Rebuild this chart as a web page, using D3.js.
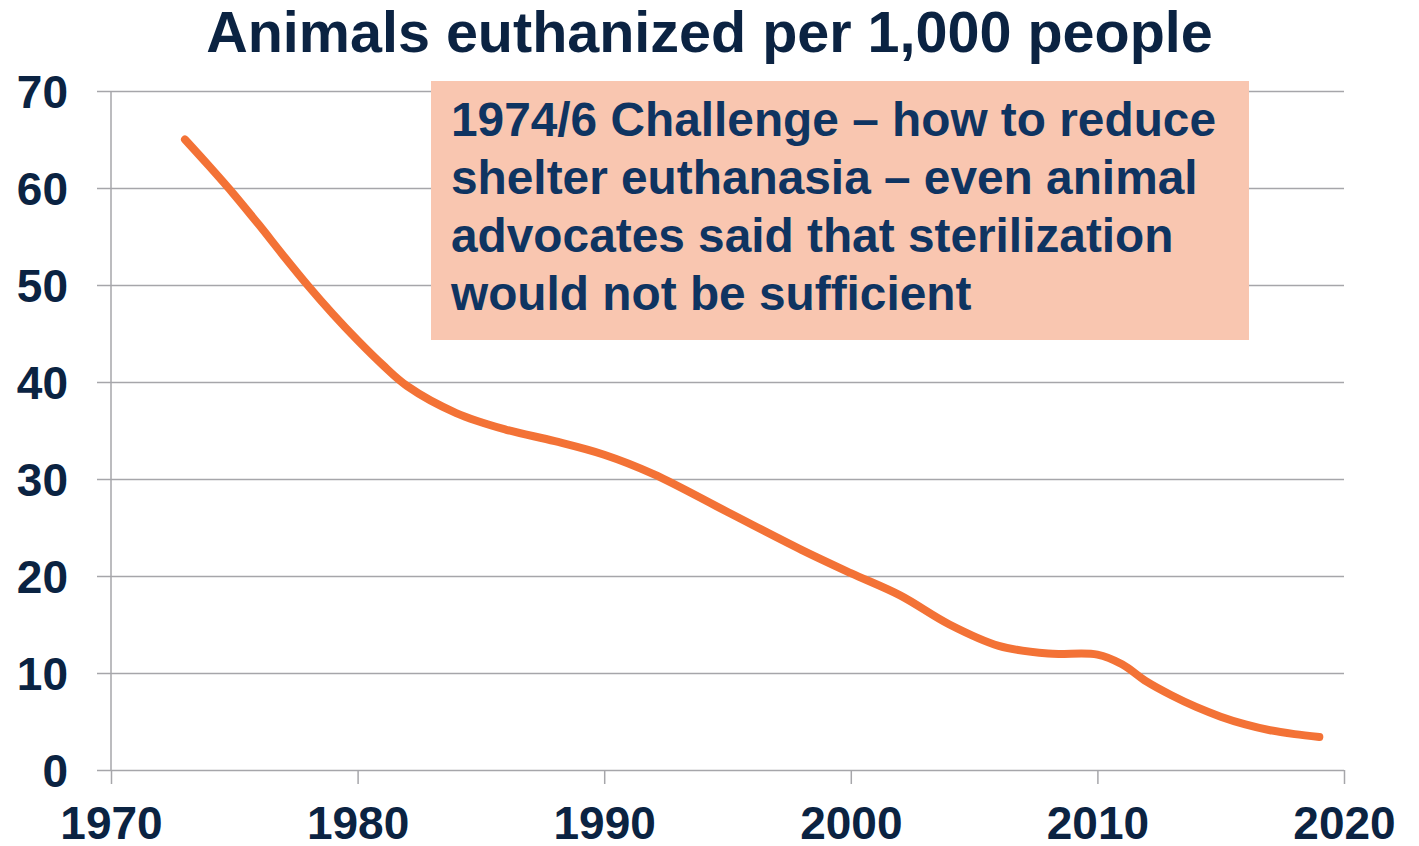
<!DOCTYPE html>
<html><head><meta charset="utf-8">
<script src="https://cdn.jsdelivr.net/npm/d3@7"></script>
<style>html,body{margin:0;padding:0;background:#fff;}svg{display:block;}</style>
</head><body>
<svg id="chart" width="1419" height="846"></svg>
<script>
const years  = [1973,1974,1975,1976,1977,1978,1979,1980,1981,1982,1984,1986,1988,1990,1992,1995,1998,2000,2002,2004,2006,2008,2010,2011,2012,2013,2014,2015,2016,2017,2018,2019];
const values = [65.0,62.2,59.3,56.2,53.0,49.9,47.0,44.3,41.8,39.6,36.8,35.1,33.9,32.5,30.5,26.6,22.7,20.3,18.0,15.0,12.8,12.0,11.9,10.9,9.1,7.7,6.5,5.5,4.7,4.1,3.7,3.4];
const xTicks = [1970,1980,1990,2000,2010,2020];
const yTicks = [0,10,20,30,40,50,60,70];
const titleText = "Animals euthanized per 1,000 people";
const noteLines = ["1974/6 Challenge \u2013 how to reduce","shelter euthanasia \u2013 even animal","advocates said that sterilization","would not be sufficient"];

const svg = d3.select("#chart");
const m = {left:111, right:1344, top:91, bottom:770};
const x = d3.scaleLinear().domain([1970,2020]).range([m.left, m.right]);
const y = d3.scaleLinear().domain([0,70]).range([m.bottom, m.top]);
const font = "'Liberation Sans', Arial, sans-serif";
const grid = "#a6a6aa";

// gridlines + y axis
const ya = svg.append("g").attr("transform",`translate(${m.left},0)`)
  .call(d3.axisLeft(y).tickValues(yTicks).tickSize(14).tickPadding(29).tickFormat(d3.format("d")));
ya.select(".domain").remove();
ya.selectAll(".tick line").attr("stroke",grid).attr("stroke-width",1.5).attr("x2",m.right-m.left).attr("x1",-14);
ya.selectAll(".tick text").attr("fill","#0b2342").attr("font-family",font).attr("font-weight","bold").attr("font-size",46).attr("dy","0.35em");

// x axis
const xa = svg.append("g").attr("transform",`translate(0,${m.bottom})`)
  .call(d3.axisBottom(x).tickValues(xTicks).tickSize(14).tickPadding(0).tickFormat(d3.format("d")));
xa.select(".domain").remove();
xa.selectAll(".tick line").attr("stroke",grid).attr("stroke-width",1.5);
xa.selectAll(".tick text").attr("fill","#0b2342").attr("font-family",font).attr("font-weight","bold").attr("font-size",46).attr("dy",null).attr("y",69);
// vertical axis line
svg.append("line").attr("x1",x(1970)).attr("x2",x(1970)).attr("y1",y(70)).attr("y2",y(0)).attr("stroke",grid).attr("stroke-width",1.5);

// annotation box
const bx = 431, by = 81, bw = 818, bh = 259;
svg.append("rect").attr("x",bx).attr("y",by).attr("width",bw).attr("height",bh).attr("fill","#f9c6b0");
const t = svg.append("text").attr("font-family",font).attr("font-weight","bold").attr("font-size",47.8).attr("fill","#0f3461");
noteLines.forEach((l,i)=>t.append("tspan").attr("x",451).attr("y",136+i*58).text(l));

// line
const data = years.map((d,i)=>({year:d, v:values[i]}));
svg.append("path").datum(data)
  .attr("fill","none").attr("stroke","#f37236").attr("stroke-width",8).attr("stroke-linecap","round").attr("stroke-linejoin","round")
  .attr("d", d3.line().x(d=>x(d.year)).y(d=>y(d.v)).curve(d3.curveCatmullRom.alpha(0.5)));

// title
svg.append("text").attr("x",709.5).attr("y",52).attr("text-anchor","middle")
  .attr("font-family",font).attr("font-weight","bold").attr("font-size",57.5).attr("fill","#0b2342").text(titleText);
</script>
</body></html>
